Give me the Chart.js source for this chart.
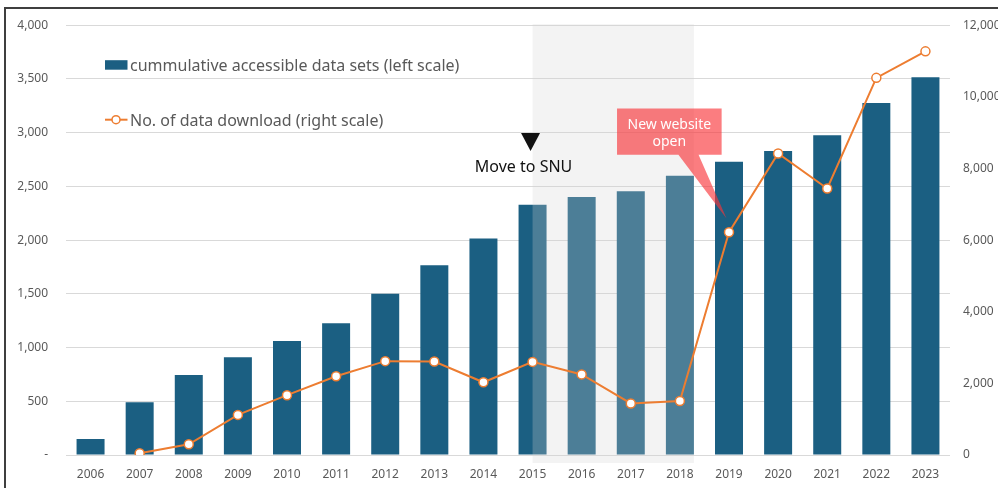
<!DOCTYPE html>
<html><head><meta charset="utf-8">
<script src="https://cdn.jsdelivr.net/npm/chart.js@4/dist/chart.umd.min.js"></script>
<style>
html,body{margin:0;padding:0;background:#fff;overflow:hidden;width:998px;height:488px}
#frame{position:absolute;left:4px;top:7px;width:1200px;height:800px;border-left:2px solid #3f3f3f;border-top:2px solid #3f3f3f;box-sizing:border-box}
#wrap{position:absolute;left:0;top:0;width:998px;height:488px}
</style></head><body>
<div id="frame"></div>
<div id="wrap"><canvas id="c" width="998" height="488"></canvas></div>
<script>
const years = ['2006','2007','2008','2009','2010','2011','2012','2013','2014','2015','2016','2017','2018','2019','2020','2021','2022','2023'];
const accessibleDataSets = [150,490,745,910,1060,1225,1500,1765,2015,2330,2400,2455,2600,2730,2830,2975,3275,3515];
const dataDownloads = [null,50,300,1120,1670,2200,2620,2610,2030,2600,2250,1440,1510,6220,8420,7440,10530,11270];
const barLabel = 'cummulative accessible data sets (left scale)';
const lineLabel = 'No. of data download (right scale)';
const shadeStartYear = '2015';
const shadeEndYear = '2018';
const snuYear = '2015';
const snuLabel = 'Move to SNU';
const webYear = '2019';
const webLabel = ['New website', 'open'];

const FONT = "'Noto Sans', 'Open Sans', sans-serif";
const BAR = '#1b5f82';
const ORANGE = '#ed7d31';
const TICK = '#595959';

const shadePlugin = {
  id: 'shade',
  afterDatasetDraw(chart, args) {
    if (args.index !== 0) return;
    const {ctx, chartArea, scales: {x}} = chart;
    const i0 = years.indexOf(shadeStartYear), i1 = years.indexOf(shadeEndYear);
    const b1 = chart.getDatasetMeta(0).data[i1];
    const left = x.getPixelForValue(i0);
    const right = b1.x + b1.width / 2;
    ctx.save();
    ctx.fillStyle = 'rgba(211,211,211,0.27)';
    ctx.fillRect(left, chartArea.top - 1, right - left, chartArea.bottom - chartArea.top + 9);
    ctx.restore();
  }
};

const notePlugin = {
  id: 'notes',
  afterDatasetsDraw(chart) {
    const {ctx, chartArea, scales: {x, y}} = chart;
    ctx.save();
    // Move to SNU marker
    const si = years.indexOf(snuYear);
    const tx = x.getPixelForValue(si) - 2;
    const ty = y.getPixelForValue(2830);
    ctx.fillStyle = '#111';
    ctx.beginPath();
    ctx.moveTo(tx - 9.5, ty - 18);
    ctx.lineTo(tx + 9.5, ty - 18);
    ctx.lineTo(tx, ty);
    ctx.closePath();
    ctx.fill();
    ctx.font = '16px ' + FONT;
    ctx.textAlign = 'center';
    ctx.textBaseline = 'alphabetic';
    ctx.fillText(snuLabel, tx - 7, ty + 21.5);

    // New website callout
    const wi = years.indexOf(webYear);
    const L = x.getPixelForValue(wi - 2.28), R = x.getPixelForValue(wi - 0.15);
    const T = y.getPixelForValue(3225), B = y.getPixelForValue(2795);
    const pL = x.getPixelForValue(wi - 1.03), pR = x.getPixelForValue(wi - 0.62);
    const tipX = x.getPixelForValue(wi - 0.05), tipY = y.getPixelForValue(2200);
    ctx.fillStyle = 'rgba(248,52,56,0.64)';
    ctx.beginPath();
    ctx.moveTo(L, T); ctx.lineTo(R, T); ctx.lineTo(R, B);
    ctx.lineTo(pR, B); ctx.lineTo(tipX, tipY); ctx.lineTo(pL, B);
    ctx.lineTo(L, B); ctx.closePath();
    ctx.fill();
    ctx.fillStyle = '#fff';
    ctx.font = '14px ' + FONT;
    ctx.fillText(webLabel[0], (L + R) / 2, T + 21);
    ctx.fillText(webLabel[1], (L + R) / 2, T + 38);

    // Legend
    const lx = chartArea.left + 39;
    ctx.fillStyle = BAR;
    ctx.fillRect(lx, chartArea.top + 35, 22.5, 9.5);
    ctx.fillStyle = TICK;
    ctx.textAlign = 'left';
    ctx.font = '16px ' + FONT;
    ctx.fillText(barLabel, lx + 25, chartArea.top + 46);
    const ly = chartArea.top + 94.5;
    ctx.strokeStyle = ORANGE; ctx.lineWidth = 2;
    ctx.beginPath(); ctx.moveTo(lx, ly); ctx.lineTo(lx + 22.5, ly); ctx.stroke();
    ctx.fillStyle = '#fff'; ctx.lineWidth = 1.5;
    ctx.beginPath(); ctx.arc(lx + 11, ly, 4, 0, Math.PI * 2); ctx.fill(); ctx.stroke();
    ctx.fillStyle = TICK;
    ctx.fillText(lineLabel, lx + 25, chartArea.top + 101);
    ctx.restore();
  }
};

new Chart(document.getElementById('c'), {
  data: {
    labels: years,
    datasets: [
      {
        type: 'bar', label: barLabel, data: accessibleDataSets,
        backgroundColor: BAR, yAxisID: 'y', order: 1,
        categoryPercentage: 1, barPercentage: 0.57
      },
      {
        type: 'line', label: lineLabel, data: dataDownloads,
        borderColor: ORANGE, borderWidth: 2, tension: 0,
        pointRadius: 4.5, pointBorderWidth: 1.5, pointBackgroundColor: '#fff', pointBorderColor: ORANGE,
        yAxisID: 'y2', order: 0, spanGaps: false
      }
    ]
  },
  options: {
    responsive: false, animation: false, devicePixelRatio: 1,
    layout: {padding: {top: 24, left: 0, right: 0, bottom: 0}},
    plugins: {legend: {display: false}, tooltip: {enabled: false}},
    scales: {
      x: {
        grid: {display: false, drawTicks: false}, border: {display: false},
        ticks: {color: TICK, font: {family: FONT, size: 12}, padding: 12, maxRotation: 0, autoSkip: false},
        afterFit(s) { s.height = 33; }
      },
      y: {
        position: 'left', min: 0, max: 4000,
        grid: {color: '#d9d9d9', lineWidth: 1, drawTicks: false}, border: {display: false},
        ticks: {stepSize: 500, color: TICK, font: {family: FONT, size: 12}, padding: 18,
          callback: v => v === 0 ? '-' : v.toLocaleString('en-US')},
        afterFit(s) { s.width = 66; }
      },
      y2: {
        position: 'right', min: 0, max: 12000,
        grid: {display: false, drawTicks: false}, border: {display: false},
        ticks: {stepSize: 2000, color: TICK, font: {family: FONT, size: 12}, padding: 13,
          callback: v => v.toLocaleString('en-US')},
        afterFit(s) { s.width = 48; }
      }
    }
  },
  plugins: [shadePlugin, notePlugin]
});
</script>
</body></html>
